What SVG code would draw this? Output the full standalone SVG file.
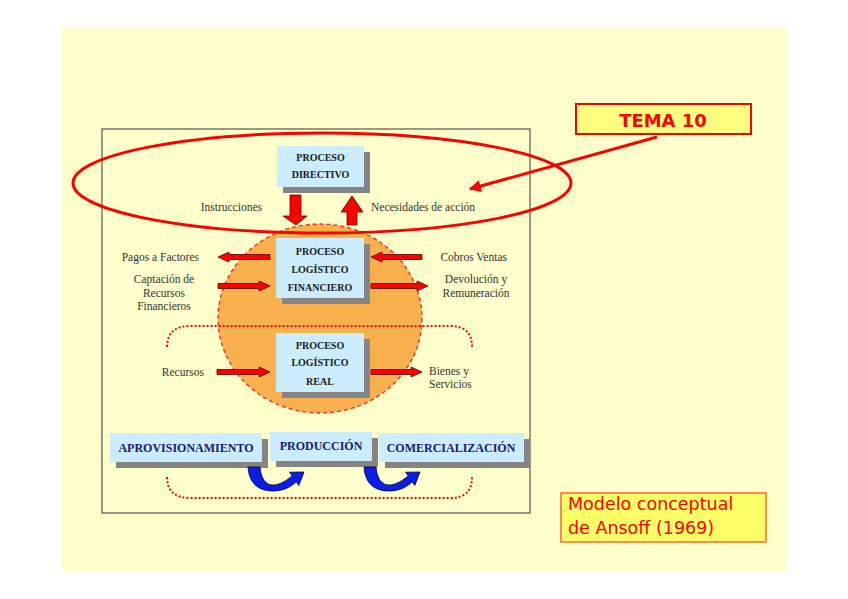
<svg xmlns="http://www.w3.org/2000/svg" width="848" height="599" viewBox="0 0 848 599">
<defs>
<style>
.box{fill:#CCECFF}
.sh{fill:#858585}
.bt{font-family:"Liberation Serif","Times New Roman",serif;font-weight:bold;font-size:10px;fill:#1a1a1a;text-anchor:middle}
.bb{font-family:"Liberation Serif","Times New Roman",serif;font-weight:bold;font-size:12px;fill:#1a1a6e;text-anchor:middle}
.lb{font-family:"Liberation Serif","Times New Roman",serif;font-size:11.5px;fill:#333}
.ra{fill:#FF0000;stroke:#5a0000;stroke-width:0.8}
.dot{fill:none;stroke:#FF0000;stroke-width:2;stroke-dasharray:2 2}
.ba{fill:#0a1ee6;stroke:#000033;stroke-width:0.8}
</style>
<marker id="ah" viewBox="0 0 10 10" refX="9" refY="5" markerWidth="5" markerHeight="4" orient="auto" markerUnits="strokeWidth">
<path d="M0,0 L10,5 L0,10 Z" fill="#FF0000"/>
</marker>
</defs>
<rect x="0" y="0" width="848" height="599" fill="#FFFFFF"/>
<rect x="61" y="27" width="726" height="545" fill="#FFFFCC"/>
<rect x="102" y="129" width="428" height="384" fill="none" stroke="#555" stroke-width="1.2"/>

<g id="circulo">
<ellipse cx="320" cy="318.5" rx="102" ry="94.5" fill="#F9B14D" stroke="#FF2020" stroke-width="1.3" stroke-dasharray="4 3"/>
</g>

<g id="punteados">
<path class="dot" d="M167,347 C167,333 175,326 190,326 L450,326 C465,326 472,333 472,347"/>
<path class="dot" d="M167,477 C167,491 175,498 190,498 L450,498 C465,498 472,491 472,477"/>
</g>

<g id="elipse-directivo">
<ellipse cx="322" cy="183" rx="249" ry="50" fill="none" stroke="#FF0000" stroke-width="3"/>
</g>

<g id="proceso-directivo">
<rect class="sh" x="283" y="152" width="87" height="41"/>
<rect class="box" x="277" y="146" width="87" height="41"/>
<text class="bt" x="320.5" y="161">PROCESO</text>
<text class="bt" x="320.5" y="178">DIRECTIVO</text>
</g>

<g id="proceso-financiero">
<rect class="sh" x="282" y="244" width="88" height="60"/>
<rect class="box" x="276" y="238" width="88" height="60"/>
<text class="bt" x="320" y="255">PROCESO</text>
<text class="bt" x="320" y="273">LOGÍSTICO</text>
<text class="bt" x="320" y="291">FINANCIERO</text>
</g>

<g id="proceso-real">
<rect class="sh" x="282" y="339" width="88" height="59"/>
<rect class="box" x="276" y="333" width="88" height="59"/>
<text class="bt" x="320" y="349">PROCESO</text>
<text class="bt" x="320" y="366">LOGÍSTICO</text>
<text class="bt" x="320" y="385">REAL</text>
</g>

<g id="aprovisionamiento">
<rect class="sh" x="116" y="439" width="152" height="29"/>
<rect class="box" x="110" y="433" width="152" height="29"/>
<text class="bb" x="186" y="452">APROVISIONAMIENTO</text>
</g>
<g id="produccion">
<rect class="sh" x="276" y="438" width="102" height="29"/>
<rect class="box" x="270" y="432" width="102" height="29"/>
<text class="bb" x="321" y="450">PRODUCCIÓN</text>
</g>
<g id="comercializacion">
<rect class="sh" x="385" y="439" width="145" height="29"/>
<rect class="box" x="379" y="433" width="145" height="29"/>
<text class="bb" x="451" y="452">COMERCIALIZACIÓN</text>
</g>

<g id="conectores">
<polygon class="ra" points="290,195 301,195 301,216 307,216 296,225 283,216 290,216"/>
<polygon class="ra" points="347,225 357,225 357,212 363,212 352,196 341,212 347,212"/>
<polygon class="ra" points="270,254.5 229,254.5 229,252 218,257 229,262 229,259.5 270,259.5"/>
<polygon class="ra" points="218,283.5 259,283.5 259,281 270,286 259,291 259,288.5 218,288.5"/>
<polygon class="ra" points="422,254.5 382,254.5 382,252 371,257 382,262 382,259.5 422,259.5"/>
<polygon class="ra" points="371,283.5 417,283.5 417,281 428,286 417,291 417,288.5 371,288.5"/>
<polygon class="ra" points="217,369.5 259,369.5 259,367 270,372 259,377 259,374.5 217,374.5"/>
<polygon class="ra" points="371,369.5 411,369.5 411,367 422,372 411,377 411,374.5 371,374.5"/>
<path class="ba" d="M248,467 L260,467 C261,479 266,485 273,485 C280,485 287,480 292.2,475.9 L289.6,472.2 L304,472 L298.8,485.4 L296.2,481.7 C290,488 282,491 273,491 C258,491 249,483 248,467 Z"/>
<path class="ba" transform="translate(116,0)" d="M248,467 L260,467 C261,479 266,485 273,485 C280,485 287,480 292.2,475.9 L289.6,472.2 L304,472 L298.8,485.4 L296.2,481.7 C290,488 282,491 273,491 C258,491 249,483 248,467 Z"/>
<line x1="657" y1="137" x2="470" y2="189" stroke="#FF0000" stroke-width="3" marker-end="url(#ah)"/>
</g>

<g id="etiquetas">
<text class="lb" x="262" y="211" text-anchor="end">Instrucciones</text>
<text class="lb" x="371" y="211">Necesidades de acción</text>
<text class="lb" x="199" y="261" text-anchor="end">Pagos a Factores</text>
<text class="lb" x="164" y="283" text-anchor="middle">Captación de</text>
<text class="lb" x="164" y="297" text-anchor="middle">Recursos</text>
<text class="lb" x="164" y="310" text-anchor="middle">Financieros</text>
<text class="lb" x="507" y="261" text-anchor="end">Cobros Ventas</text>
<text class="lb" x="476" y="283" text-anchor="middle">Devolución y</text>
<text class="lb" x="476" y="297" text-anchor="middle">Remuneración</text>
<text class="lb" x="204" y="376" text-anchor="end">Recursos</text>
<text class="lb" x="429" y="375">Bienes y</text>
<text class="lb" x="429" y="388">Servicios</text>
</g>

<g id="tema10">
<rect x="576" y="104" width="175" height="30" fill="#FFFF80" stroke="#FF0000" stroke-width="2"/>
<text x="663" y="127" text-anchor="middle" font-family="'DejaVu Sans',Verdana,sans-serif" font-weight="bold" font-size="18" fill="#FF0000">TEMA 10</text>
</g>

<g id="modelo">
<rect x="561" y="493" width="205" height="49" fill="#FFFF66" stroke="#FF6633" stroke-width="1.5"/>
<text x="568" y="510" font-family="'DejaVu Sans',Verdana,sans-serif" font-size="17.5" fill="#FF0000">Modelo conceptual</text>
<text x="568" y="534" font-family="'DejaVu Sans',Verdana,sans-serif" font-size="17.5" fill="#FF0000">de Ansoff (1969)</text>
</g>
</svg>
